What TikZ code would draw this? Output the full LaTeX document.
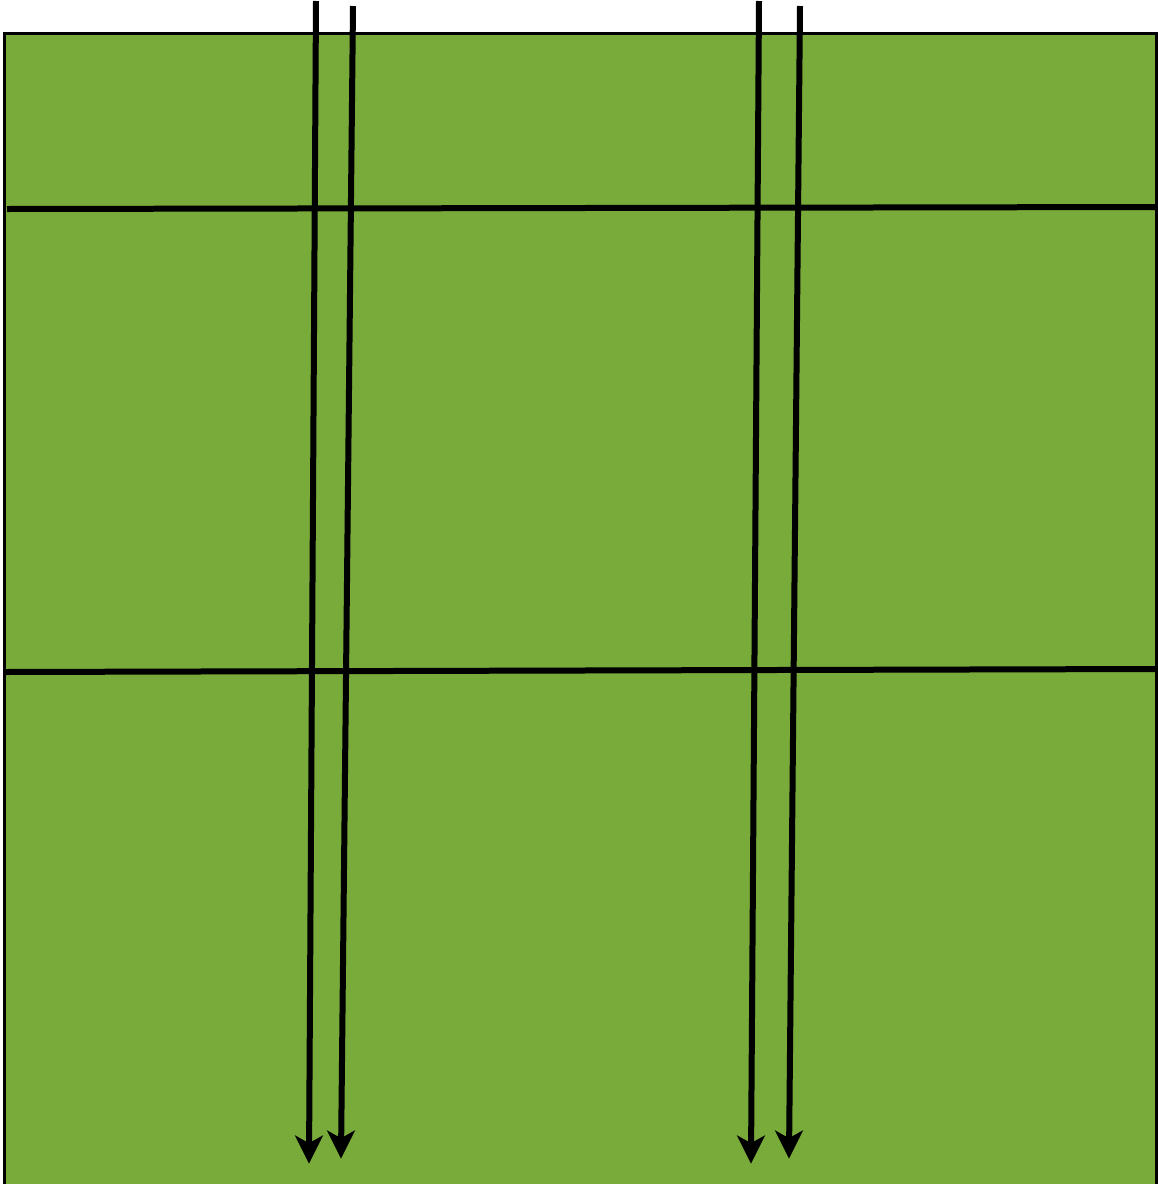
\documentclass[tikz,border=0pt]{standalone}
\usetikzlibrary{calc}
\definecolor{grass}{RGB}{120,171,58}
\begin{document}
\begin{tikzpicture}[x=1pt,y=-1pt,
  field/.style={fill=grass,draw=black,line width=3pt},
  rowline/.style={draw=black,line width=6pt},
  flow/.style={draw=black,line width=6pt,shorten >=17pt},
  headfill/.style={fill=black,draw=black,line width=1.5pt,line join=miter}]
\useasboundingbox (0,0) rectangle (1158,1184);
\begin{scope}
\clip (0,0) rectangle (1158,1184);
\path[field] (4.5,33.5) rectangle (1156,1200);
\end{scope}
\coordinate (h1a) at (7,209);
\coordinate (h1b) at (1158,207);
\coordinate (h2a) at (5,672);
\coordinate (h2b) at (1158,669);
\draw[rowline] (h1a) -- (h1b);
\draw[rowline] (h2a) -- (h2b);
\coordinate (a1s) at (316,1);
\coordinate (a1e) at (309,1162);
\coordinate (a2s) at (353,6);
\coordinate (a2e) at (341,1157);
\coordinate (a3s) at (759,1);
\coordinate (a3e) at (751,1162);
\coordinate (a4s) at (800,6);
\coordinate (a4e) at (789,1157);
\foreach \s/\e in {a1s/a1e,a2s/a2e,a3s/a3e,a4s/a4e}{
  \draw[flow] (\s) -- (\e);
  \path[headfill] (\e) -- ($(\e)+(-12.5,-25)$) -- ($(\e)+(0,-18)$) -- ($(\e)+(12.5,-25)$) -- cycle;
}
\end{tikzpicture}
\end{document}
